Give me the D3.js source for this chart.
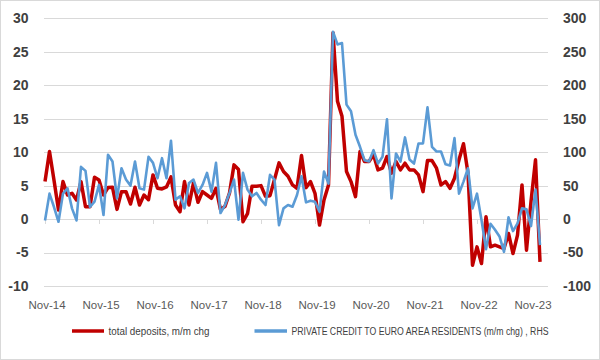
<!DOCTYPE html>
<html><head><meta charset="utf-8">
<script src="https://cdn.jsdelivr.net/npm/d3@7/dist/d3.min.js"></script>
<style>body{margin:0;background:#fff}svg{display:block}</style>
</head><body><svg id="c" width="600" height="360"></svg>
<script>
// total deposits, m/m chg (LHS), monthly from Nov-14
const deposits = [5.6,10.1,5.8,1.35,5.6,3.6,3.85,2.85,5.6,1.85,1.85,6.25,5.85,3.6,4.7,4.75,1.45,4.1,4.1,2.25,
4.75,2.1,3.6,2.9,6.6,4.6,4.5,4.8,6.3,2.1,1.1,5.6,2.1,5.4,2.5,4.1,3.6,3.1,4.6,1.4,
1.9,3.9,8.1,7.4,-0.4,0.8,4.9,4.9,5.0,3.4,3.5,5.9,8.4,7.1,6.4,5.1,4.6,9.5,4.7,5.6,
3.85,-0.9,2.85,5.1,27.85,17.6,15.35,7.1,5.6,3.35,10.1,8.6,8.6,9.6,7.35,7.6,9.35,6.85,8.6,7.35,
8.35,7.35,7.35,6.6,4.1,8.75,8.75,7.6,5.1,5.6,4.6,6.1,8.85,11.25,6.85,-6.9,-4.15,-6.65,0.35,-4.15,
-3.9,-4.15,-4.4,-2.15,-5.15,-2.4,5.1,-4.65,2.6,8.85,-6.4];
// private credit to euro area residents (m/m chg), RHS
const credit = [-2,38,18,-4,38,46,16,-2,78,72,18,26,51,6,96,86,31,76,59,50,
86,46,44,93,84,61,91,61,117,29,34,16,54,59,39,51,69,41,84,9,
21,39,59,-1,69,44,34,39,29,21,66,59,-9,16,21,18.5,36,64,25,27.5,
26,11,71,53,280,261,263,171,161,126,108,88,86,103,83,93,149,31,98,86,
122,89,83,113,113,167,108,101,101,82,80,121,38,56,76,16,38,-1.5,-45,-7,
-16,-26,-49,2.5,-18,-6.5,16,14.5,-10.5,44,-39];
const xLabels = ["Nov-14","Nov-15","Nov-16","Nov-17","Nov-18","Nov-19","Nov-20","Nov-21","Nov-22","Nov-23"];
const leftTicks = [-10,-5,0,5,10,15,20,25,30];
const rightTicks = [-100,-50,0,50,100,150,200,250,300];
const seriesNames = ["total deposits, m/m chg","PRIVATE CREDIT TO EURO AREA RESIDENTS (m/m chg) , RHS"];

const svg = d3.select("#c");
const N = deposits.length;
const x = d3.scaleLinear().domain([0, N-1]).range([45, 540]);
const yL = d3.scaleLinear().domain([-10,30]).range([286,18.3]);
const yR = d3.scaleLinear().domain([-100,300]).range([286,18.3]);
const font = "Liberation Sans, Arial, sans-serif";

svg.append("rect").attr("x",0.5).attr("y",0.5).attr("width",599).attr("height",359)
  .attr("fill","#fff").attr("stroke","#d9d9d9");

// gridlines
svg.append("g").selectAll("line").data(leftTicks).join("line")
  .attr("x1",44).attr("x2",548).attr("y1",d=>Math.round(yL(d))+0.5).attr("y2",d=>Math.round(yL(d))+0.5)
  .attr("stroke","#d9d9d9").attr("stroke-width",1);

// x tick marks on zero line (every 12 months)
const tickIdx = d3.range(0, N, 12);
svg.append("g").selectAll("line").data(tickIdx).join("line")
  .attr("x1",d=>Math.round(x(d))+0.5).attr("x2",d=>Math.round(x(d))+0.5)
  .attr("y1",Math.round(yL(0))).attr("y2",Math.round(yL(0))+5)
  .attr("stroke","#d9d9d9");

// left axis labels
svg.append("g").selectAll("text").data(leftTicks).join("text")
  .attr("x",28.5).attr("y",d=>yL(d)).attr("dy","0.35em").attr("text-anchor","end")
  .attr("font-family",font).attr("font-size",14).attr("font-weight","bold")
  .attr("fill","#404040").text(d=>d);
// right axis labels
svg.append("g").selectAll("text").data(rightTicks).join("text")
  .attr("x",563).attr("y",d=>yR(d)).attr("dy","0.35em").attr("text-anchor","start")
  .attr("font-family",font).attr("font-size",14).attr("font-weight","bold")
  .attr("fill","#404040").text(d=>d);

// x labels every 12 months
svg.append("g").selectAll("text").data(xLabels).join("text")
  .attr("x",(d,i)=>x(i*12)+2).attr("y",305).attr("dy","0.35em").attr("text-anchor","middle")
  .attr("font-family",font).attr("font-size",11.5)
  .attr("fill","#595959").text(d=>d);

// lines
const lineL = d3.line().x((d,i)=>x(i)).y(d=>yL(d));
const lineR = d3.line().x((d,i)=>x(i)).y(d=>yR(d));
svg.append("path").datum(deposits).attr("d",lineL).attr("fill","none")
  .attr("stroke","#c00000").attr("stroke-width",3.5).attr("stroke-linejoin","round");
svg.append("path").datum(credit).attr("d",lineR).attr("fill","none")
  .attr("stroke","#5b9bd5").attr("stroke-width",2.6).attr("stroke-linejoin","round");

// legend
const leg = [{c:"#c00000",x1:72,x2:104,tx:108.5,tl:101},{c:"#5b9bd5",x1:254.5,x2:287,tx:291.5,tl:257}];
leg.forEach((l,i)=>{
  svg.append("line").attr("x1",l.x1).attr("x2",l.x2).attr("y1",331).attr("y2",331)
    .attr("stroke",l.c).attr("stroke-width",3.5);
  svg.append("text").attr("x",l.tx).attr("y",331.5).attr("dy","0.35em")
    .attr("font-family",font).attr("font-size",10)
    .attr("fill","#404040").attr("textLength",l.tl).attr("lengthAdjust","spacingAndGlyphs")
    .text(seriesNames[i]);
});
</script></body></html>
